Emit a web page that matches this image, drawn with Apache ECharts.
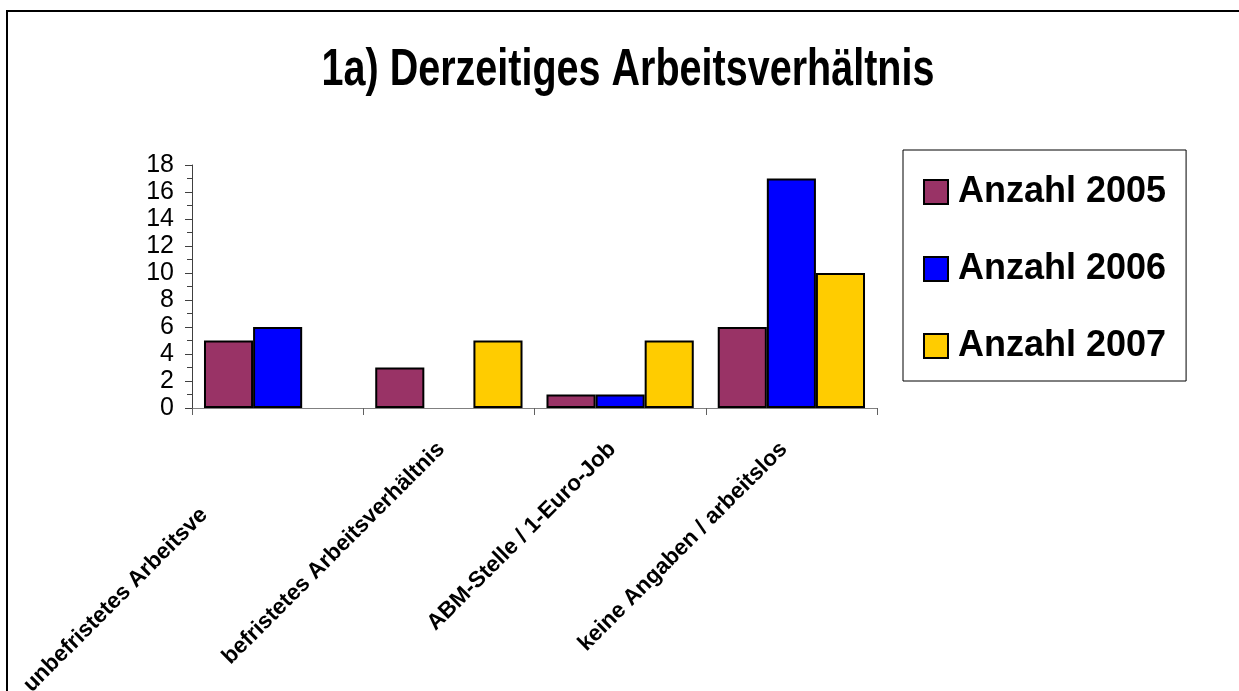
<!DOCTYPE html>
<html>
<head>
<meta charset="utf-8">
<script src="https://cdn.jsdelivr.net/npm/echarts@6/dist/echarts.min.js"></script>
<style>
  html, body { margin: 0; padding: 0; background: #fff; }
  #chart { width: 1239px; height: 691px; }
</style>
</head>
<body>
<div id="chart"></div>
<script>
// Kategorien (erste Beschriftung ist im Original abgeschnitten)
const categories = [
  "unbefristetes Arbeitsve",
  "befristetes Arbeitsverhältnis",
  "ABM-Stelle / 1-Euro-Job",
  "keine Angaben / arbeitslos",
];
const seriesNames = ["Anzahl 2005", "Anzahl 2006", "Anzahl 2007"];
const anzahl2005 = [5, 3, 1, 6];
const anzahl2006 = [6, null, 1, 17];
const anzahl2007 = [null, 5, 5, 10];
const yTicks = [0, 18, 2]; // min, max, interval

const colors = ["#993366", "#0000FF", "#FFCC00"];
const font = '"Liberation Sans", Arial, sans-serif';

const chart = echarts.init(document.getElementById("chart"), null, { renderer: "canvas" });

function barSeries(name, data, color) {
  return {
    name: name,
    type: "bar",
    data: data,
    barGap: 0,
    barCategoryGap: "14%",
    itemStyle: { color: color, borderColor: "#000", borderWidth: 2 },
  };
}

const labelStyle = { fontSize: 22.5, fontWeight: "bold", fontFamily: font, color: "#000" };

chart.setOption({
  backgroundColor: "#fff",
  animation: false,
  textStyle: { fontFamily: font },
  graphic: [
    {
      type: "rect",
      shape: { x: 7, y: 11, width: 1400, height: 900 },
      style: { fill: null, stroke: "#000", lineWidth: 2 },
      silent: true,
    },
    {
      type: "text",
      x: 628,
      y: 71,
      scaleX: 0.76,
      style: {
        text: "1a) Derzeitiges Arbeitsverhältnis",
        fontFamily: font,
        fontWeight: "bold",
        fontSize: 52,
        fill: "#000",
        align: "center",
        verticalAlign: "middle",
      },
    },
  ],
  legend: {
    orient: "vertical",
    left: 903,
    top: 150,
    padding: [24, 20, 17, 20],
    itemWidth: 24,
    itemHeight: 24,
    itemGap: 41,
    icon: "rect",
    borderColor: "#000",
    borderWidth: 1,
    data: seriesNames,
    textStyle: { fontSize: 36, fontWeight: "bold", color: "#000", fontFamily: font, padding: [0, 0, 0, 5] },
  },
  grid: {
    left: 192,
    right: 362,
    top: 165,
    bottom: 283,
    containLabel: false,
    outerBoundsMode: "none",
  },
  xAxis: {
    type: "category",
    data: categories,
    axisLine: { lineStyle: { color: "#808080", width: 1 } },
    axisTick: { show: true, length: 7, lineStyle: { color: "#606060" } },
    axisLabel: {
      interval: 0,
      rotate: 45,
      margin: 30,
      formatter: function (v, i) {
        return i === 0 ? "{cut|" + v + "}" : "{lab|" + v + "}";
      },
      rich: {
        lab: Object.assign({ padding: [0, 11, 0, 0] }, labelStyle),
        cut: Object.assign({ padding: [0, 104, 0, 0] }, labelStyle),
      },
    },
  },
  yAxis: {
    type: "value",
    min: yTicks[0],
    max: yTicks[1],
    interval: yTicks[2],
    axisLine: { show: true, lineStyle: { color: "#404040", width: 1 } },
    axisTick: { show: true, length: 7, lineStyle: { color: "#404040" } },
    minorTick: { show: true, splitNumber: 2, length: 5, lineStyle: { color: "#404040" } },
    splitLine: { show: false },
    axisLabel: { fontSize: 25, color: "#000", margin: 18, fontFamily: font },
  },
  series: [
    barSeries(seriesNames[0], anzahl2005, colors[0]),
    barSeries(seriesNames[1], anzahl2006, colors[1]),
    barSeries(seriesNames[2], anzahl2007, colors[2]),
  ],
});
</script>
</body>
</html>
